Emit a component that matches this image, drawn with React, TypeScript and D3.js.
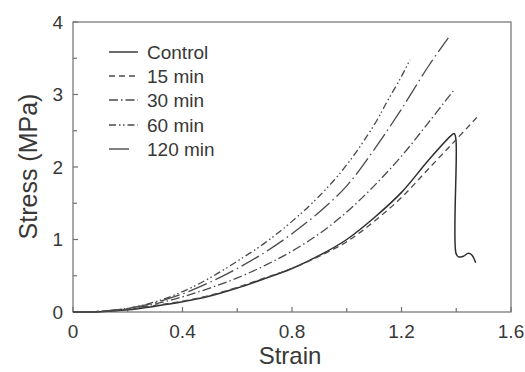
import React from "react";
import * as d3 from "d3";

const controlStrain = [0, 0.1, 0.2, 0.3, 0.4, 0.5, 0.6, 0.7, 0.8, 0.9, 1.0, 1.1, 1.2, 1.3, 1.383, 1.393, 1.399, 1.399, 1.408, 1.426, 1.444, 1.456, 1.471];
const controlStress = [0, 0.005, 0.03, 0.08, 0.14, 0.22, 0.33, 0.46, 0.6, 0.78, 1.0, 1.3, 1.65, 2.1, 2.44, 2.46, 2.37, 0.81, 0.76, 0.77, 0.81, 0.79, 0.68];

const min15Strain = [0, 0.1, 0.2, 0.3, 0.4, 0.5, 0.6, 0.7, 0.8, 0.9, 1.0, 1.1, 1.2, 1.3, 1.4, 1.484];
const min15Stress = [0, 0.006, 0.035, 0.09, 0.15, 0.23, 0.34, 0.47, 0.6, 0.77, 0.97, 1.25, 1.58, 1.98, 2.38, 2.72];

const min30Strain = [0, 0.1, 0.2, 0.3, 0.4, 0.5, 0.6, 0.7, 0.8, 0.9, 1.0, 1.1, 1.2, 1.3, 1.389];
const min30Stress = [0, 0.008, 0.04, 0.11, 0.21, 0.33, 0.47, 0.64, 0.84, 1.08, 1.38, 1.74, 2.15, 2.62, 3.05];

const min60Strain = [0, 0.1, 0.2, 0.3, 0.4, 0.5, 0.6, 0.7, 0.8, 0.9, 1.0, 1.1, 1.15, 1.2, 1.231];
const min60Stress = [0, 0.01, 0.05, 0.14, 0.28, 0.47, 0.7, 0.95, 1.25, 1.6, 2.03, 2.58, 2.92, 3.25, 3.48];

const min120Strain = [0, 0.1, 0.2, 0.3, 0.4, 0.5, 0.6, 0.7, 0.8, 0.9, 1.0, 1.1, 1.2, 1.3, 1.371];
const min120Stress = [0, 0.01, 0.05, 0.13, 0.25, 0.41, 0.6, 0.82, 1.08, 1.38, 1.74, 2.24, 2.8, 3.4, 3.78];

const seriesNames = ["Control", "15 min", "30 min", "60 min", "120 min"];
const xTicks = [0, 0.4, 0.8, 1.2, 1.6];
const xTickLabels = ["0", "0.4", "0.8", "1.2", "1.6"];
const xMinorTicks = [0.2, 0.6, 1.0, 1.4];
const yTicks = [0, 1, 2, 3, 4];
const yTickLabels = ["0", "1", "2", "3", "4"];
const yMinorTicks = [0.5, 1.5, 2.5, 3.5];

const dashes = ["none", "6,4", "9,3,1.5,3", "7,3,1.5,2.5,1.5,3", "20,4,1.5,4"];

export default function App() {
  const left = 73, right = 511, top = 22, bottom = 312;
  const x = d3.scaleLinear().domain([0, 1.6]).range([left, right]);
  const y = d3.scaleLinear().domain([0, 4]).range([bottom, top]);
  const line = d3
    .line<[number, number]>()
    .x((d) => x(d[0]))
    .y((d) => y(d[1]))
    .curve(d3.curveCatmullRom.alpha(0.5));

  const series = [
    [controlStrain, controlStress],
    [min15Strain, min15Stress],
    [min30Strain, min30Stress],
    [min60Strain, min60Stress],
    [min120Strain, min120Stress],
  ].map(([xs, ys]) => xs.map((v, i) => [v, ys[i]] as [number, number]));

  const font = "Liberation Sans, Arial, sans-serif";
  const textColor = "#383838";
  const axisColor = "#707070";
  const legendY = [52, 76, 100, 125, 149];
  const legendEnd = [138, 138, 138, 138, 129];

  return (
    <svg
      width={525}
      height={372}
      style={{ position: "absolute", left: 0, top: 0, background: "#fff" }}
      fontFamily={font}
    >
      <rect x={0} y={0} width={525} height={372} fill="#fff" />
      <rect x={left} y={top} width={right - left} height={bottom - top} fill="none" stroke={axisColor} strokeWidth={1.2} />
      {xTicks.map((t) => (
        <line key={"xt" + t} x1={x(t)} x2={x(t)} y1={bottom} y2={bottom - 5} stroke={axisColor} strokeWidth={1.2} />
      ))}
      {xMinorTicks.map((t) => (
        <line key={"xm" + t} x1={x(t)} x2={x(t)} y1={bottom} y2={bottom - 4} stroke={axisColor} strokeWidth={1.2} />
      ))}
      {yTicks.map((t) => (
        <line key={"yt" + t} x1={left} x2={left + 5} y1={y(t)} y2={y(t)} stroke={axisColor} strokeWidth={1.2} />
      ))}
      {yMinorTicks.map((t) => (
        <line key={"ym" + t} x1={left} x2={left + 4} y1={y(t)} y2={y(t)} stroke={axisColor} strokeWidth={1.2} />
      ))}
      {xTicks.map((t, i) => (
        <text key={"xl" + t} x={x(t)} y={338} textAnchor="middle" fontSize={19} fill={textColor}>
          {xTickLabels[i]}
        </text>
      ))}
      {yTicks.map((t, i) => (
        <text key={"yl" + t} x={63} y={y(t)} dy="0.35em" textAnchor="end" fontSize={19} fill={textColor}>
          {yTickLabels[i]}
        </text>
      ))}
      <text x={290} y={364} textAnchor="middle" fontSize={24} fill={textColor}>
        Strain
      </text>
      <text
        transform={`translate(37,${(90 + 243) / 2}) rotate(-90)`}
        textAnchor="middle"
        fontSize={25}
        fill={textColor}
      >
        Stress (MPa)
      </text>
      {series.map((pts, i) => (
        <path
          key={"s" + i}
          d={line(pts) || ""}
          fill="none"
          stroke={i === 0 ? "#2e2e2e" : "#4a4a4a"}
          strokeWidth={i === 0 ? 1.5 : 1.3}
          strokeDasharray={dashes[i]}
        />
      ))}
      {seriesNames.map((name, i) => (
        <g key={"lg" + i}>
          <line
            x1={109}
            x2={legendEnd[i]}
            y1={legendY[i]}
            y2={legendY[i]}
            stroke={i === 0 ? "#2e2e2e" : "#4a4a4a"}
            strokeWidth={1.4}
            strokeDasharray={dashes[i]}
          />
          <text x={147} y={legendY[i]} dy="0.35em" fontSize={19} fill={textColor}>
            {name}
          </text>
        </g>
      ))}
    </svg>
  );
}
